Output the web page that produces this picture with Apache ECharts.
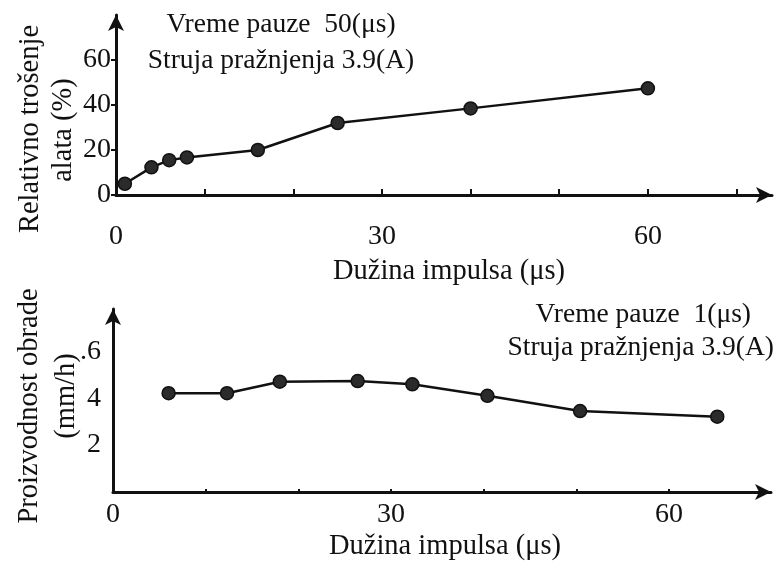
<!DOCTYPE html>
<html>
<head>
<meta charset="utf-8">
<script src="https://cdn.jsdelivr.net/npm/echarts@6/dist/echarts.min.js"></script>
<style>
  html, body { margin: 0; padding: 0; background: #fff; }
  #main { width: 776px; height: 561px; }
</style>
</head>
<body>
<div id="main"></div>
<script>
// top panel: relative tool wear vs pulse length
const wearX = [1, 4, 6, 8, 16, 25, 40, 60];
const wearY = [5, 12.3, 15.5, 16.7, 20, 32, 38.5, 47.4];
// bottom panel: machining rate vs pulse length
const rateX = [6, 12.3, 18, 26.4, 32.3, 40.4, 50.4, 65.2];
const rateY = [4.21, 4.21, 4.7, 4.73, 4.59, 4.1, 3.45, 3.21];

const xLabels = [0, 30, 60];
const wearTicks = [0, 20, 40, 60];
const rateTicks = [2, 4, 6];

const FONT = 'Liberation Serif';
const INK = '#111';

function pairs(xs, ys) {
  return xs.map(function (x, i) { return [x, ys[i]]; });
}

const chart = echarts.init(document.getElementById('main'), null, { renderer: 'canvas' });

function xAxis(gridIndex, max, margin, tickLen) {
  return {
    type: 'value', gridIndex: gridIndex, min: 0, max: max, interval: 10,
    splitLine: { show: false },
    axisLine: { lineStyle: { color: INK, width: 3 }, symbol: ['none', 'arrow'], symbolSize: [12, 16] },
    axisTick: { inside: true, length: tickLen, lineStyle: { color: INK, width: 2 } },
    axisLabel: {
      margin: margin, showMaxLabel: false, showMinLabel: true,
      color: INK, fontFamily: FONT, fontSize: 28,
      formatter: function (v) { return xLabels.indexOf(v) >= 0 ? String(v) : ''; }
    }
  };
}

function txt(x, y, s, size, align, rot) {
  return {
    type: 'text', x: x, y: y, rotation: rot || 0,
    style: { text: s, font: size + 'px ' + FONT, fill: INK, align: align || 'center', verticalAlign: 'middle' }
  };
}

const option = {
  animation: false,
  backgroundColor: '#fff',
  grid: [
    { left: 116, top: 15, width: 656, height: 180 },
    { left: 113, top: 309, width: 658, height: 183 }
  ],
  xAxis: [xAxis(0, 74, 28, 6), xAxis(1, 71, 9, 3)],
  yAxis: [
    {
      type: 'value', gridIndex: 0, min: 0, max: 80, interval: 20,
      splitLine: { show: false },
      axisLine: { lineStyle: { color: INK, width: 3 }, symbol: ['none', 'arrow'], symbolSize: [12, 16] },
      axisTick: { length: 5, lineStyle: { color: INK, width: 2 } },
      axisLabel: {
        margin: 5, showMaxLabel: false, color: INK, fontFamily: FONT, fontSize: 28,
        formatter: function (v) { return wearTicks.indexOf(v) >= 0 ? String(v) : ''; }
      }
    },
    {
      type: 'value', gridIndex: 1, min: 0, max: 7.8, interval: 2,
      splitLine: { show: false },
      axisLine: { lineStyle: { color: INK, width: 3 }, symbol: ['none', 'arrow'], symbolSize: [12, 16] },
      axisTick: { show: false },
      axisLabel: {
        margin: 12, showMaxLabel: false, color: INK, fontFamily: FONT, fontSize: 28,
        formatter: function (v) {
          if (rateTicks.indexOf(v) < 0) return '';
          return v === 6 ? '.6' : String(v);
        }
      }
    }
  ],
  series: [
    {
      type: 'line', xAxisIndex: 0, yAxisIndex: 0, data: pairs(wearX, wearY),
      symbol: 'circle', symbolSize: 13,
      lineStyle: { color: INK, width: 2.5 },
      itemStyle: { color: '#2b2b2b', borderColor: INK, borderWidth: 1.5 }
    },
    {
      type: 'line', xAxisIndex: 1, yAxisIndex: 1, data: pairs(rateX, rateY),
      symbol: 'circle', symbolSize: 13,
      lineStyle: { color: INK, width: 2.5 },
      itemStyle: { color: '#2b2b2b', borderColor: INK, borderWidth: 1.5 }
    }
  ],
  graphic: [
    // top panel texts
    txt(281, 25, 'Vreme pauze  50(μs)', 27.5),
    txt(281, 61, 'Struja pražnjenja 3.9(A)', 27.5),
    txt(31, 129, 'Relativno trošenje', 28.5, 'center', Math.PI / 2),
    txt(64, 130, 'alata (%)', 28.5, 'center', Math.PI / 2),
    txt(449, 272, 'Dužina impulsa (μs)', 28.5),
    // bottom panel texts
    txt(751, 315, 'Vreme pauze  1(μs)', 27.5, 'right'),
    txt(774, 348, 'Struja pražnjenja 3.9(A)', 27.5, 'right'),
    txt(30, 406, 'Proizvodnost obrade', 28.5, 'center', Math.PI / 2),
    txt(67, 396, '(mm/h)', 28.5, 'center', Math.PI / 2),
    txt(445, 547, 'Dužina impulsa (μs)', 28.5)
  ]
};

chart.setOption(option);
</script>
</body>
</html>
